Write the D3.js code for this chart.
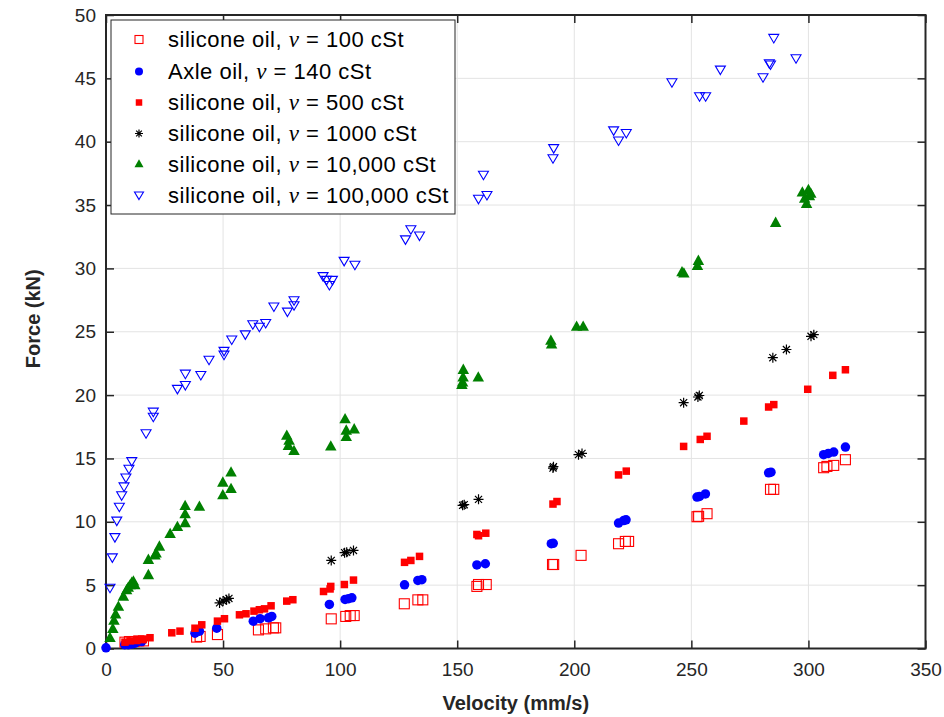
<!DOCTYPE html>
<html>
<head>
<meta charset="utf-8">
<script src="https://cdn.jsdelivr.net/npm/d3@7"></script>
<style>
  html, body { margin: 0; padding: 0; background: #fff; }
  svg { display: block; }
</style>
</head>
<body>
<svg id="chart" width="944" height="717"></svg>
<script>
// Damper force vs. piston velocity for fluids of different viscosity
const xTicks = [0, 50, 100, 150, 200, 250, 300, 350];
const yTicks = [0, 5, 10, 15, 20, 25, 30, 35, 40, 45, 50];

const seriesNames = [
  ["silicone oil, ", "100 cSt"],
  ["Axle oil, ", "140 cSt"],
  ["silicone oil, ", "500 cSt"],
  ["silicone oil, ", "1000 cSt"],
  ["silicone oil, ", "10,000 cSt"],
  ["silicone oil, ", "100,000 cSt"]
];

// [velocity mm/s, force kN]
const silicone100 = [
  [8.1, 0.5], [10, 0.55], [12, 0.55], [14, 0.6], [16, 0.6],
  [38.7, 0.9], [40.2, 0.95], [47.6, 1.1],
  [65.1, 1.47], [68.2, 1.55], [71.5, 1.63], [72.5, 1.63],
  [96.2, 2.34], [102.4, 2.53], [104.3, 2.6], [106, 2.6],
  [127.4, 3.53], [133.2, 3.84], [135.3, 3.84],
  [158.4, 4.9], [159.1, 5.05], [162.4, 5.05],
  [190.7, 6.63], [191.2, 6.63], [202.9, 7.35],
  [218.9, 8.27], [221.8, 8.45], [223.2, 8.45],
  [252.4, 10.4], [253.1, 10.43], [256.7, 10.64],
  [283.8, 12.56], [285.2, 12.56],
  [306.5, 14.27], [307.9, 14.37], [310.8, 14.45], [315.8, 14.9]
];

const axle140 = [
  [0, 0.05], [8, 0.3], [9.5, 0.3], [11, 0.35], [12.4, 0.42], [15.2, 0.55],
  [38, 1.21], [39.9, 1.37], [47.3, 1.6],
  [62.9, 2.16], [65.8, 2.35], [69.4, 2.42], [70.8, 2.53],
  [95.4, 3.48], [102.1, 3.87], [103.6, 3.93], [105, 4.0],
  [127.5, 5.03], [133.2, 5.37], [134.9, 5.43],
  [158.4, 6.6], [162, 6.69],
  [190.2, 8.27], [191, 8.3],
  [218.9, 9.9], [221.1, 10.1], [222.1, 10.16],
  [252.4, 11.95], [253.5, 12.0], [256, 12.2],
  [283, 13.87], [284, 13.92],
  [306.5, 15.3], [308.5, 15.4], [310.8, 15.5], [315.8, 15.9]
];

const silicone500 = [
  [8.1, 0.5], [10.3, 0.6], [13.1, 0.63], [15.9, 0.7], [18.8, 0.85],
  [28.1, 1.24], [31.6, 1.37], [38, 1.6], [40.9, 1.87],
  [47.6, 2.16], [50.6, 2.35], [57, 2.66], [59.8, 2.74],
  [63.2, 2.95], [65.5, 3.06], [67.7, 3.13], [70.5, 3.37],
  [77.2, 3.74], [79.8, 3.85],
  [92.9, 4.5], [95.7, 4.7], [96, 4.9], [101.8, 5.05], [105.7, 5.4],
  [127.5, 6.8], [130.2, 6.95], [133.9, 7.27],
  [158.4, 9.0], [159.1, 8.9], [162.2, 9.1],
  [190.9, 11.4], [192.6, 11.6],
  [218.9, 13.7], [222.2, 14.0],
  [246.7, 15.95], [253.8, 16.5], [256.7, 16.75],
  [272.4, 17.95], [283, 19.06], [285.2, 19.25],
  [299.7, 20.46], [310.4, 21.56], [315.8, 22.0]
];

const silicone1000 = [
  [48.5, 3.6], [50, 3.75], [51.5, 3.85], [52.5, 3.95],
  [96.2, 6.95], [101.9, 7.56], [102.8, 7.6], [105.7, 7.74],
  [152.3, 11.3], [153, 11.35], [159.1, 11.77],
  [190.9, 14.24], [191.1, 14.35],
  [201.8, 15.3], [203.3, 15.4],
  [246.7, 19.4], [252.8, 19.85], [253.4, 19.97],
  [284.8, 22.95], [290.6, 23.6],
  [301.1, 24.64], [302.3, 24.77]
];

const silicone10000 = [
  [1.7, 0.84], [2.9, 1.55], [3.4, 2.2], [4.1, 2.7], [5.3, 3.3],
  [7.4, 4.1], [8.8, 4.6], [9.5, 4.8], [10.3, 5.0], [11, 5.2], [11.7, 5.3], [12.3, 5.0],
  [18.1, 5.8], [18.1, 7.0], [20.9, 7.35], [21.4, 7.5], [22.8, 8.05],
  [27.4, 9.05], [30.5, 9.6], [33.8, 9.9], [33.8, 10.6], [33.8, 11.25], [39.9, 11.2],
  [49.9, 12.1], [49.9, 13.1], [53.4, 12.6], [53.4, 13.9],
  [77.2, 16.8], [77.9, 16.0], [78.2, 16.4], [80.3, 15.6],
  [96, 15.95], [102.1, 18.1], [102.6, 17.2], [102.6, 16.7], [106, 17.3],
  [152, 20.8], [152.3, 21.0], [152.5, 21.4], [152.6, 22.0], [159, 21.4],
  [190, 24.3], [190.3, 24.0], [201, 25.4], [203.8, 25.4],
  [246, 29.7], [246.8, 29.6], [252.6, 30.2], [253, 30.6],
  [286, 33.6],
  [297.4, 36.0], [298.4, 35.5], [299.2, 35.1], [300, 36.2], [300.4, 35.7], [301, 35.9]
];

const silicone100000 = [
  [1.7, 4.8], [2.7, 7.2], [3.8, 8.8], [4.6, 10.1], [5.7, 11.2], [6.7, 12.1],
  [7.7, 12.8], [8.5, 13.5], [9.8, 14.2], [11, 14.8],
  [17.1, 17.0], [20.2, 18.3], [20.2, 18.7],
  [30.5, 20.5], [33.9, 20.8], [33.9, 21.7], [40.5, 21.6], [44, 22.8],
  [50.4, 23.2], [50.4, 23.5], [53.7, 24.4], [59.5, 24.8],
  [62.7, 25.6], [65.5, 25.4], [68.2, 25.7], [71.7, 27.0],
  [77.5, 26.6], [80.3, 27.1], [80.3, 27.5],
  [92.7, 29.4], [94.2, 29.1], [95.4, 28.7], [96.7, 29.1],
  [101.7, 30.6], [106.3, 30.3],
  [127.9, 32.3], [130.2, 33.1], [133.9, 32.6],
  [159.1, 35.5], [161.2, 37.4], [162.7, 35.8],
  [190.9, 38.7], [191.2, 39.5],
  [216.8, 40.9], [218.9, 40.1], [222.2, 40.7],
  [241.7, 44.7], [253.5, 43.6], [256.1, 43.6], [262.4, 45.7],
  [280.6, 45.1], [283.3, 46.2], [283.8, 46.1], [285.2, 48.2], [294.7, 46.6]
];

const margin = { left: 106, top: 15, right: 944 - 925.5, bottom: 717 - 648.5 };
const width = 944 - margin.left - margin.right;
const height = 717 - margin.top - margin.bottom;

const svg = d3.select("#chart");
const g = svg.append("g").attr("transform", `translate(${margin.left},${margin.top})`);

const x = d3.scaleLinear().domain([0, 350]).range([0, width]);
const y = d3.scaleLinear().domain([0, 50]).range([height, 0]);

const axisColor = "#262626";
const fontFam = "Arial, 'Liberation Sans', Helvetica, sans-serif";

// grid
g.append("g").selectAll("line").data(xTicks.slice(1, -1)).join("line")
  .attr("x1", d => x(d)).attr("x2", d => x(d))
  .attr("y1", 0).attr("y2", height)
  .attr("stroke", "#e3e3e3").attr("stroke-width", 1);
g.append("g").selectAll("line").data(yTicks.slice(1, -1)).join("line")
  .attr("y1", d => y(d)).attr("y2", d => y(d))
  .attr("x1", 0).attr("x2", width)
  .attr("stroke", "#e3e3e3").attr("stroke-width", 1);

// axes (inward ticks, boxed)
function styleAxis(sel, showText) {
  sel.select(".domain").remove();
  sel.selectAll(".tick line").attr("stroke", axisColor).attr("stroke-width", 1.5);
  sel.selectAll(".tick text")
    .attr("fill", "#262626")
    .style("font-family", fontFam)
    .style("font-size", "19px");
  if (!showText) sel.selectAll(".tick text").remove();
}

g.append("g").attr("transform", `translate(0,${height})`)
  .call(d3.axisBottom(x).tickValues(xTicks).tickSize(-8).tickPadding(14))
  .call(s => styleAxis(s, true));
g.append("g")
  .call(d3.axisTop(x).tickValues(xTicks).tickSize(-8))
  .call(s => styleAxis(s, false));
g.append("g")
  .call(d3.axisLeft(y).tickValues(yTicks).tickSize(-8).tickPadding(10))
  .call(s => styleAxis(s, true));
g.append("g").attr("transform", `translate(${width},0)`)
  .call(d3.axisRight(y).tickValues(yTicks).tickSize(-8))
  .call(s => styleAxis(s, false));

g.append("rect")
  .attr("x", 0).attr("y", 0).attr("width", width).attr("height", height)
  .attr("fill", "none").attr("stroke", axisColor).attr("stroke-width", 2);

// axis titles
svg.append("text")
  .attr("x", margin.left + width / 2).attr("y", 710)
  .attr("text-anchor", "middle")
  .style("font-family", fontFam).style("font-size", "20px").style("font-weight", "bold")
  .attr("fill", "#262626")
  .text("Velocity (mm/s)");
svg.append("text")
  .attr("transform", `translate(40,${margin.top + height / 2 - 13}) rotate(-90)`)
  .attr("text-anchor", "middle")
  .style("font-family", fontFam).style("font-size", "20px").style("font-weight", "bold")
  .attr("fill", "#262626")
  .text("Force (kN)");

// marker drawers
const markers = [
  { data: silicone100, draw: (sel, s) => sel.append("rect").attr("x", -s / 2).attr("y", -s / 2).attr("width", s).attr("height", s)
      .attr("fill", "none").attr("stroke", "#ff0000").attr("stroke-width", 1.1), size: 10, legendSize: 8 },
  { data: axle140, draw: (sel, s) => sel.append("circle").attr("r", s / 2).attr("fill", "#0000ff"), size: 9.5, legendSize: 8 },
  { data: silicone500, draw: (sel, s) => sel.append("rect").attr("x", -s / 2).attr("y", -s / 2).attr("width", s).attr("height", s)
      .attr("fill", "#ff0000"), size: 7.5, legendSize: 6.5 },
  { data: silicone1000, draw: (sel, s) => {
      const r = s / 2;
      const p = d3.path();
      for (let k = 0; k < 4; k++) {
        const a = k * Math.PI / 4;
        p.moveTo(-r * Math.cos(a), -r * Math.sin(a));
        p.lineTo(r * Math.cos(a), r * Math.sin(a));
      }
      sel.append("path").attr("d", p.toString()).attr("stroke", "#000").attr("stroke-width", 1.2).attr("fill", "none");
    }, size: 10, legendSize: 8 },
  { data: silicone10000, draw: (sel, s) => {
      const h = s * 0.9;
      sel.append("path").attr("d", `M0,${-h * 0.6}L${s / 2},${h * 0.4}L${-s / 2},${h * 0.4}Z`).attr("fill", "#008000");
    }, size: 11.5, legendSize: 9 },
  { data: silicone100000, draw: (sel, s) => {
      const h = s * 0.85;
      sel.append("path").attr("d", `M0,${h * 0.6}L${s / 2},${-h * 0.4}L${-s / 2},${-h * 0.4}Z`)
        .attr("fill", "none").attr("stroke", "#0000ff").attr("stroke-width", 1.1);
    }, size: 10, legendSize: 9 }
];

markers.forEach(m => {
  const layer = g.append("g");
  m.data.forEach(d => {
    const pt = layer.append("g").attr("transform", `translate(${x(d[0])},${y(d[1])})`);
    m.draw(pt, m.size);
  });
});

// legend
const legend = svg.append("g").attr("transform", "translate(111,20)");
legend.append("rect")
  .attr("x", 0).attr("y", 0).attr("width", 344).attr("height", 194)
  .attr("fill", "#fff").attr("stroke", "#262626").attr("stroke-width", 1);
const rowY = [19.5, 51.5, 82.5, 113.5, 144, 175];
markers.forEach((m, i) => {
  const row = legend.append("g").attr("transform", `translate(28,${rowY[i]})`);
  m.draw(row, m.legendSize);
  const t = legend.append("text")
    .attr("x", 57).attr("y", rowY[i] + 7.5)
    .style("font-family", fontFam).style("font-size", "22px")
    .style("letter-spacing", "0.5px")
    .attr("fill", "#000");
  t.append("tspan").text(seriesNames[i][0]);
  t.append("tspan").style("font-family", "'Liberation Serif', 'Times New Roman', serif")
    .style("font-style", "italic").style("font-size", "23px").text("\u03bd");
  t.append("tspan").text(" = " + seriesNames[i][1]);
});
</script>
</body>
</html>
